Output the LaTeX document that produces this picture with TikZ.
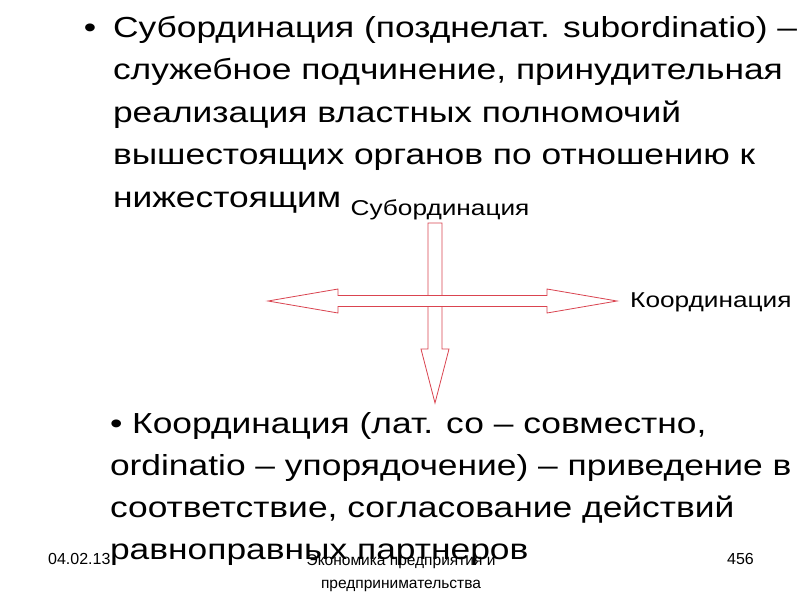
\documentclass[tikz,border=0pt]{standalone}
\usepackage{fontspec}
\setmainfont{Liberation Sans}
\newfontfamily\widefont[FakeStretch=1.22]{Liberation Sans}
\definecolor{arrowred}{RGB}{218,68,80}
\begin{document}
\begin{tikzpicture}[x=1pt,y=-1pt,
  big/.style={font=\widefont\fontsize{29}{29}\selectfont, inner sep=0, outer sep=0},
  lbl/.style={font=\widefont\fontsize{21.5}{21.5}\selectfont, inner sep=0},
  foot/.style={font=\fontsize{16}{16}\selectfont, inner sep=0},
  footmid/.style={font=\fontsize{15.5}{15.5}\selectfont, inner sep=0},
  arr/.style={draw=arrowred, line width=0.8pt, fill=white, line join=miter}]
\useasboundingbox (0,0) rectangle (800,600);
\fill[white] (0,0) rectangle (800,600);
% top block
\node[big, anchor=base] (b1) at (90,37) {•};
\node[big, anchor=base west] (t1) at (113,37) {Субординация (позднелат. subordinatio) –};
\node[big, anchor=base west] (t2) at (113,79.5) {служебное подчинение, принудительная};
\node[big, anchor=base west] (t3) at (113,122) {реализация властных полномочий};
\node[big, anchor=base west] (t4) at (113,164.5) {вышестоящих органов по отношению к};
\node[big, anchor=base west] (t5) at (113,207) {нижестоящим};
% arrows
\draw[arr] (428,223) -- (442,223) -- (442,349) -- (449,349) -- (435,403) -- (421,349) -- (428,349) -- cycle;
\draw[arr] (268,301) -- (338,289) -- (338,295.5) -- (547,295.5) -- (547,289) -- (617,301) -- (547,313) -- (547,306.5) -- (338,306.5) -- (338,313) -- cycle;
\node[lbl, anchor=base] (sub) at (440,215) {Субординация};
\node[lbl, anchor=base west] (koo) at (630,307) {Координация};
% footer
\node[foot, anchor=base west] (date) at (48,564) {04.02.13};
\node[foot, anchor=base east] (num) at (754,564) {456};
\node[footmid, anchor=base] (f1) at (401,565) {Экономика предприятия и};
\node[footmid, anchor=base] (f2) at (401,588) {предпринимательства};
% lower block
\node[big, anchor=base west] (l1) at (110,433) {• Координация (лат. со – совместно,};
\node[big, anchor=base west] (l2) at (110,475) {ordinatio – упорядочение) – приведение в};
\node[big, anchor=base west] (l3) at (110,517) {соответствие, согласование действий};
\node[big, anchor=base west] (l4) at (110,559) {равноправных партнеров};
\end{tikzpicture}
\end{document}
